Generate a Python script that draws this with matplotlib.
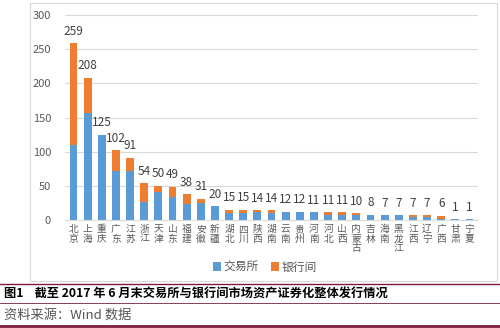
import matplotlib
matplotlib.use("Agg")
import matplotlib.pyplot as plt
from matplotlib.patches import Rectangle
from matplotlib.lines import Line2D

plt.rcParams['font.family'] = ['Noto Sans CJK SC', 'DejaVu Sans']

regions = ['北京', '上海', '重庆', '广东', '江苏', '浙江', '天津', '山东', '福建', '安徽',
           '新疆', '湖北', '四川', '陕西', '湖南', '云南', '贵州', '河南', '河北', '山西',
           '内蒙古', '吉林', '海南', '黑龙江', '江西', '辽宁', '广西', '甘肃', '宁夏']
exchange = [110, 157, 125, 72, 72, 27, 41, 33, 24, 25,
            20, 10, 10, 12, 10, 11, 11, 11, 8, 8,
            7, 8, 7, 7, 5, 5, 2, 1, 1]
interbank = [149, 51, 0, 30, 19, 27, 9, 16, 14, 6,
             0, 5, 5, 2, 4, 1, 1, 0, 3, 3,
             3, 0, 0, 0, 2, 2, 4, 0, 0]
totals = [259, 208, 125, 102, 91, 54, 50, 49, 38, 31,
          20, 15, 15, 14, 14, 12, 12, 11, 11, 11,
          10, 8, 7, 7, 7, 7, 6, 1, 1]

blue = '#5B9BD5'
orange = '#ED7D31'

fig = plt.figure(figsize=(5, 3.28), dpi=100)

# chart frame
fig.patches.append(Rectangle((30 / 500, 1 - 281 / 328), 467 / 500, 278 / 328,
                             transform=fig.transFigure, fill=False,
                             edgecolor='#D9D9D9', linewidth=0.8))

ax = fig.add_axes([65 / 500, 1 - 220 / 328, 413 / 500, 205 / 328])
x = range(len(regions))
ax.bar(x, exchange, width=0.55, color=blue, label='交易所', zorder=2)
ax.bar(x, interbank, width=0.55, bottom=exchange, color=orange, label='银行间', zorder=2)

for i, t in enumerate(totals):
    ax.text(i, t + 8, str(t), ha='center', va='bottom', fontsize=8.5, color='#404040')

ax.set_ylim(0, 300)
ax.set_xlim(-0.6, len(regions) - 0.4)
ax.set_yticks(range(0, 301, 50))
ax.yaxis.grid(True, color='#D9D9D9', linewidth=0.8, zorder=0)
ax.set_xticks(list(x))
ax.set_xticklabels(['\n'.join(r) for r in regions], linespacing=0.95)
ax.tick_params(axis='both', length=0, colors='#595959')
ax.tick_params(axis='x', labelsize=7, pad=3)
ax.tick_params(axis='y', labelsize=8, pad=10)
for s in ['top', 'right', 'left']:
    ax.spines[s].set_visible(False)
ax.spines['bottom'].set_color('#D9D9D9')

fig.legend(loc='center', bbox_to_anchor=(265 / 500, 1 - 267 / 328), ncol=2,
           frameon=False, fontsize=8.5, handlelength=0.7, handleheight=0.7,
           handletextpad=0.2, columnspacing=1.0, labelcolor='#595959')

# caption area
maroon = '#7B1E3A'
for y, lw in [(284, 1.0), (303, 0.6), (326, 2.0)]:
    fig.add_artist(Line2D([0, 1], [1 - y / 328] * 2, color=maroon, linewidth=lw))
fig.text(4 / 500, 1 - 294 / 328, '图1    截至 2017 年 6 月末交易所与银行间市场资产证券化整体发行情况',
         fontsize=8.8, fontweight='bold', color='black', va='center')
fig.text(4 / 500, 1 - 315 / 328, '资料来源：Wind 数据', fontsize=9.5, color='#555555', va='center')

fig.savefig('out.png', dpi=100)
